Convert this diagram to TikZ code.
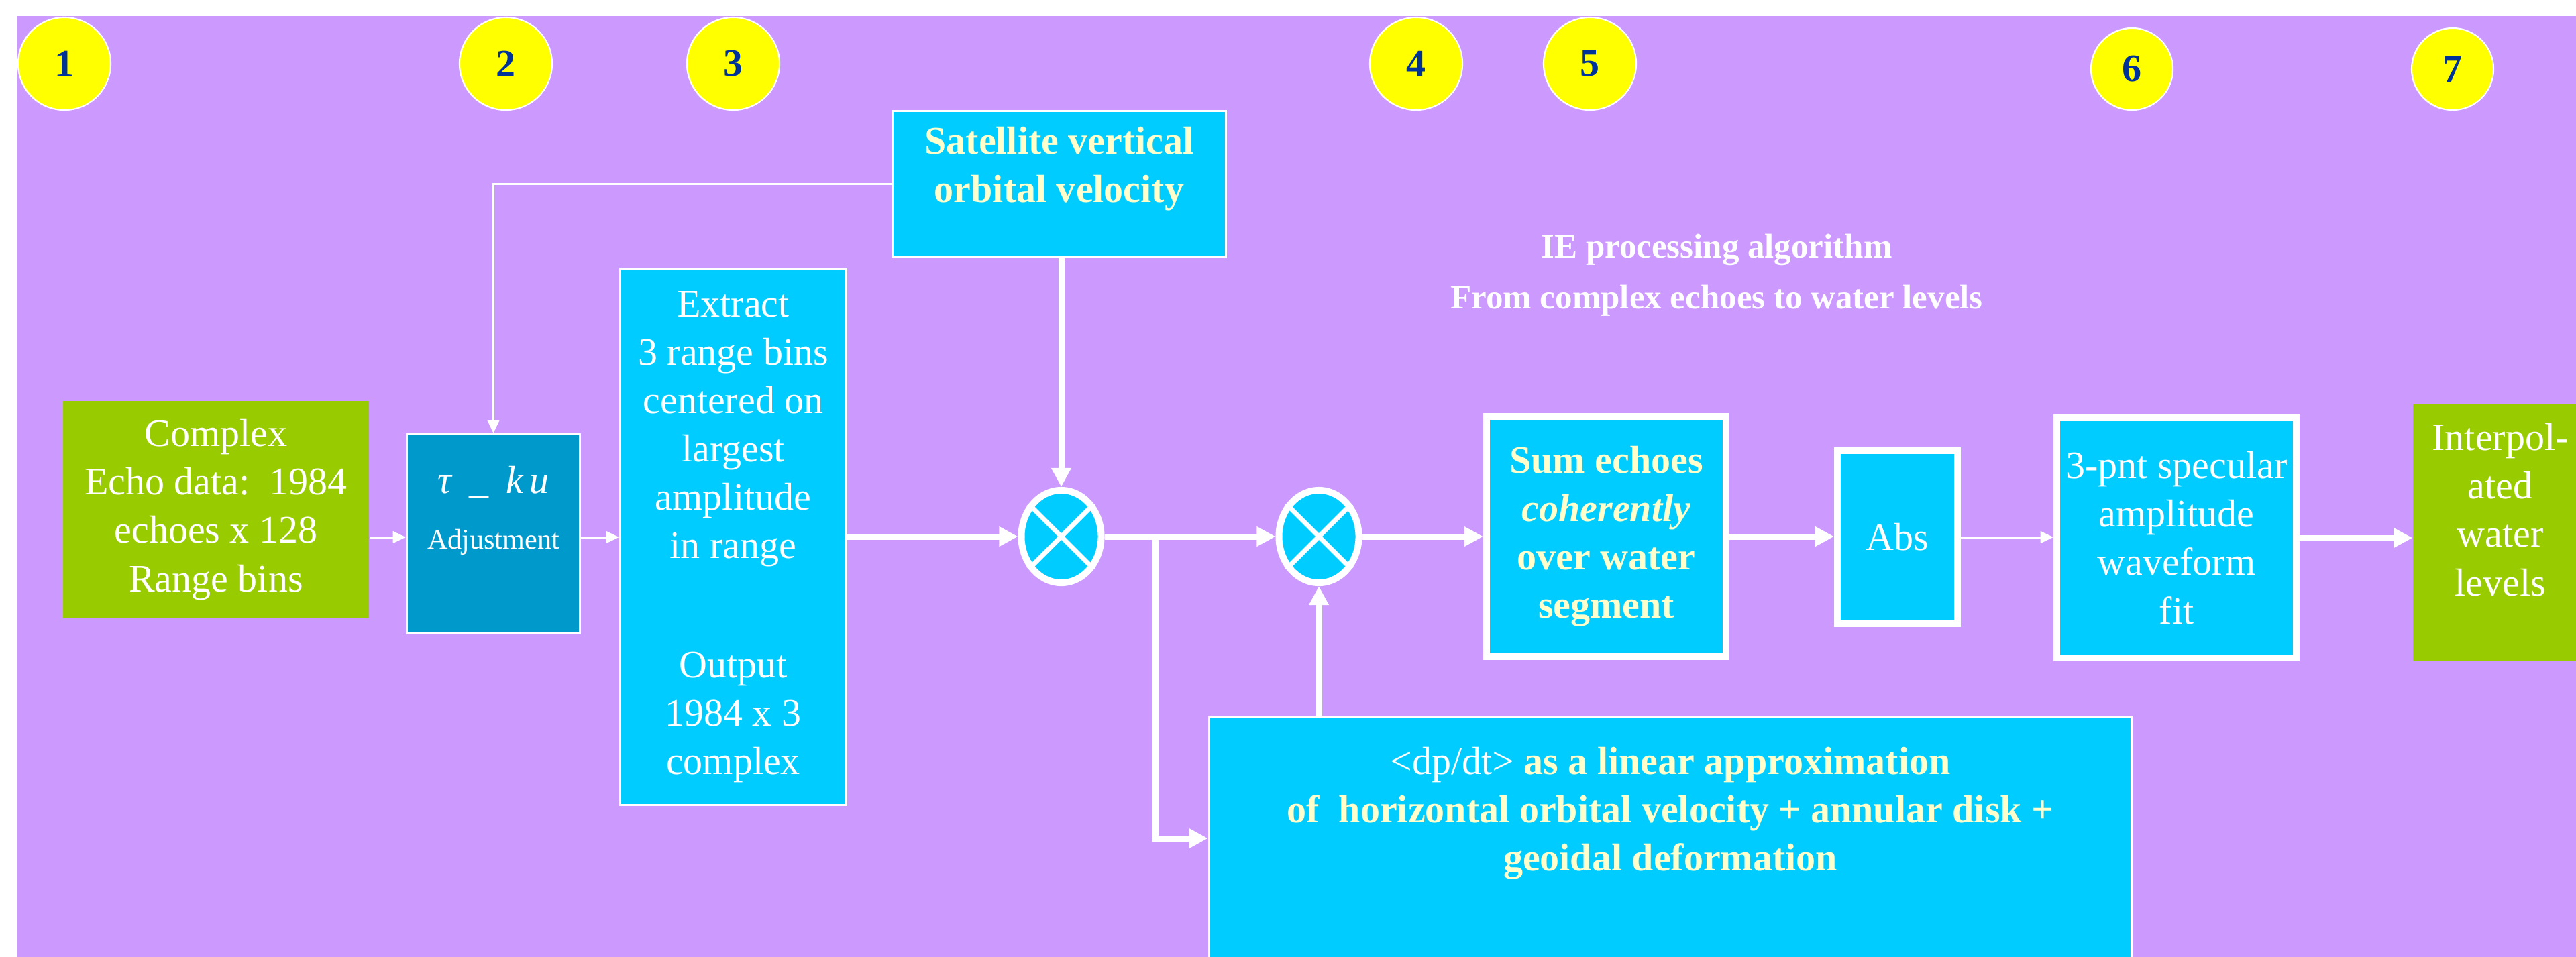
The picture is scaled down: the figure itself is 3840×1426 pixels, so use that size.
\documentclass[tikz,border=0pt]{standalone}
\usepackage{fontspec}
\setmainfont{Liberation Serif}
\usetikzlibrary{arrows.meta,shapes.geometric}
\definecolor{bgpurple}{HTML}{CC99FF}
\definecolor{boxcyan}{HTML}{00CCFF}
\definecolor{adjblue}{HTML}{0099CC}
\definecolor{boxgreen}{HTML}{99CC00}
\definecolor{numyellow}{HTML}{FFFF00}
\definecolor{numblue}{HTML}{003399}
\definecolor{paleyellow}{HTML}{FFFFCC}
\begin{document}
\begin{tikzpicture}[x=0.01cm,y=-0.01cm,
  txt/.style={font=\fontsize{16.5}{20.5}\selectfont, text=white, align=center, inner sep=0pt},
  ybtxt/.style={txt, text=paleyellow, font=\fontsize{16.5}{20.5}\selectfont\bfseries},
  plainbox/.style={draw=white, line width=0.85pt, inner sep=0pt},
  heavybox/.style={draw=white, line width=2.85pt, fill=boxcyan, inner sep=0pt},
  numcirc/.style={circle, draw=white, line width=0.6pt, fill=numyellow, text=numblue, font=\fontsize{16.5}{20}\selectfont\bfseries, inner sep=0pt},
  mult/.style={ellipse, draw=white, line width=2.85pt, fill=boxcyan, minimum width=1.19cm, minimum height=1.38cm, inner sep=0pt},
  crossline/.style={draw=white, line width=2pt},
  thinarr/.style={draw=white, line width=0.85pt, -{Triangle[length=5.5pt,width=5pt]}},
  thickarr/.style={draw=white, line width=2.56pt, -{Triangle[length=8pt,width=8pt]}},
]
\useasboundingbox (0,0) rectangle (3840,1426);
\clip (0,0) rectangle (3840,1440);
\fill[white] (0,0) rectangle (3840,1440);
\fill[bgpurple] (25,24) rectangle (3840,1440);

% numbered circles
\node[numcirc, minimum size=1.38cm] (n1) at (96,95) {1};
\node[numcirc, minimum size=1.38cm] (n2) at (754,95) {2};
\node[numcirc, minimum size=1.38cm] (n3) at (1093,95) {3};
\node[numcirc, minimum size=1.38cm] (n4) at (2111,95) {4};
\node[numcirc, minimum size=1.38cm] (n5) at (2370,95) {5};
\node[numcirc, minimum size=1.22cm] (n6) at (3178,103) {6};
\node[numcirc, minimum size=1.22cm] (n7) at (3656,103) {7};

% title
\node[txt, font=\fontsize{14.5}{21.5}\selectfont\bfseries] (title) at (2559,410)
  {IE processing algorithm\\From complex echoes to water levels};

% boxes
\node[txt, fill=boxgreen, minimum width=4.56cm, minimum height=3.24cm] (cplx) at (322,760)
  {Complex\\Echo data:\ \ 1984\\echoes x 128\\Range bins};

\node[plainbox, fill=adjblue, minimum width=2.58cm, minimum height=2.97cm] (adj) at (735.5,796) {};
\node[txt, anchor=base, font=\fontsize{16.5}{20}\selectfont\itshape] (adjA) at (735.5,735)
  {τ\hspace{0.45em}\_\hspace{0.45em}k\,u};
\node[txt, anchor=base, font=\fontsize{12}{14}\selectfont] (adjB) at (735.5,818) {Adjustment};

\node[txt, plainbox, fill=boxcyan, minimum width=3.37cm, minimum height=8.00cm] (extr) at (1093,800.5)
  {Extract\\3 range bins\\centered on\\largest\\amplitude\\in range\\[30pt]Output\\1984 x 3\\complex};

\node[plainbox, fill=boxcyan, minimum width=4.97cm, minimum height=2.18cm] (sat) at (1579,274.5) {};
\node[ybtxt] (satT) at (1579,252) {Satellite vertical\\orbital velocity};

\node[mult] (m1) at (1582,800) {};
\draw[crossline] (m1.45) -- (m1.225) (m1.135) -- (m1.315);
\node[mult] (m2) at (1966,800) {};
\draw[crossline] (m2.45) -- (m2.225) (m2.135) -- (m2.315);

\node[heavybox, ybtxt, minimum width=3.57cm, minimum height=3.58cm] (sum) at (2394.5,800)
  {Sum echoes\\\textit{coherently}\\over water\\segment};
\node[heavybox, txt, minimum width=1.79cm, minimum height=2.58cm] (abs) at (2828.5,801) {Abs};
\node[heavybox, txt, minimum width=3.57cm, minimum height=3.58cm] (fit) at (3244.5,802)
  {3-pnt specular\\amplitude\\waveform\\fit};

\node[fill=boxgreen, inner sep=0pt, minimum width=2.60cm, minimum height=3.83cm] (out) at (3727,794.5) {};
\node[txt] (outT) at (3727,760) {Interpol-\\ated\\water\\levels};

\node[plainbox, fill=boxcyan, minimum width=13.75cm, minimum height=3.9cm] (dpdt) at (2490,1265) {};
\node[ybtxt] (dpT) at (2490,1213)
  {{\color{white}\mdseries <dp/dt>} as a linear approximation\\of\ \ horizontal orbital velocity + annular disk +\\geoidal deformation};

% connectors
\coordinate (row) at (0,801);
\draw[thinarr] (cplx.east |- row) -- (adj.west |- row);
\draw[thinarr] (adj.east |- row) -- (extr.west |- row);
\draw[thinarr] (sat.west) -| (adj.north);
\draw[thickarr] (m1.north |- sat.south) -- (m1.north);
\draw[thickarr] (extr.east |- m1.west) -- (m1.west);
\draw[thickarr] (m1.east) -- (m2.west);
\coordinate (br) at (1722,800);
\coordinate (brdown) at (1722,1250);
\draw[thickarr] (br) -- (brdown) -- (dpdt.west |- brdown);
\draw[thickarr] (m2.south |- dpdt.north) -- (m2.south);
\draw[thickarr] (m2.east) -- (sum.west);
\draw[thickarr] (sum.east) -- (abs.west |- sum.east);
\draw[thinarr] (abs.east) -- (fit.west |- abs.east);
\draw[thickarr] (fit.east) -- (out.west |- fit.east);
\end{tikzpicture}
\end{document}
